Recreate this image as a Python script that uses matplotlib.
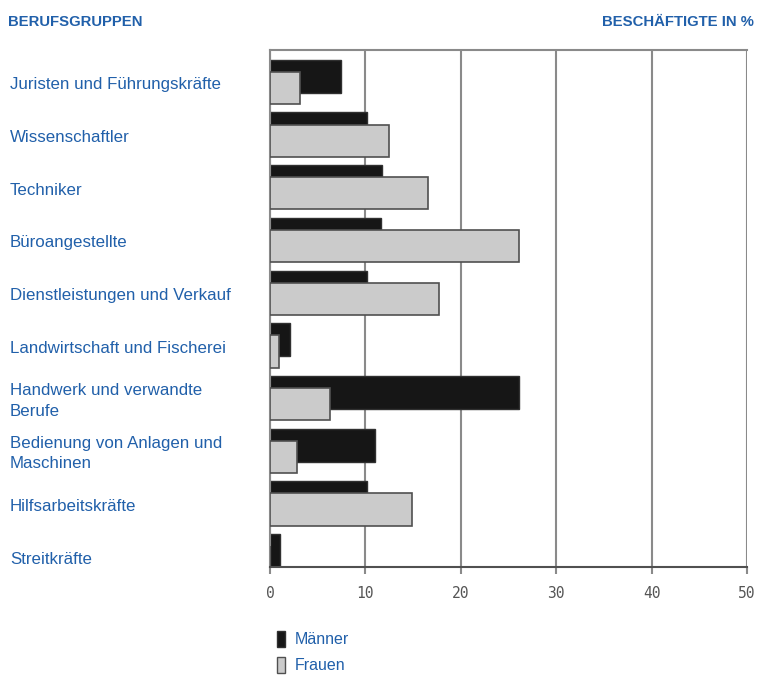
import matplotlib.pyplot as plt
from matplotlib.patches import Patch

gruppen = ['Juristen und Führungskräfte', 'Wissenschaftler', 'Techniker',
           'Büroangestellte', 'Dienstleistungen und Verkauf',
           'Landwirtschaft und Fischerei', 'Handwerk und verwandte\nBerufe',
           'Bedienung von Anlagen und\nMaschinen', 'Hilfsarbeitskräfte',
           'Streitkräfte']
maenner = [7.4, 10.2, 11.7, 11.6, 10.2, 2.1, 26.1, 11.0, 10.2, 1.1]
frauen = [3.1, 12.5, 16.6, 26.1, 17.7, 0.9, 6.3, 2.8, 14.9, 0.0]
xticks = [0, 10, 20, 30, 40, 50]

blau = '#2160aa'
grau_linie = '#8a8a8a'

plt.rcParams['font.family'] = ['Liberation Sans', 'DejaVu Sans']

fig = plt.figure(figsize=(7.57, 6.75), dpi=100)
ax = fig.add_axes([270 / 757, 108 / 675, 477 / 757, 517 / 675])

pos = list(range(len(gruppen)))
ax.barh(pos, maenner, height=0.63, color='#161616', edgecolor='#303030',
        linewidth=1, zorder=2)
ax.barh([p + 0.22 for p in pos], frauen, height=0.61, color='#cbcbcb',
        edgecolor='#505050', linewidth=1.2, zorder=3)

ax.set_xlim(0, 50)
ax.set_ylim(9.31, -0.5)
ax.set_xticks(xticks)
ax.set_xticklabels([str(t) for t in xticks], color='#555555', fontsize=10.5,
                   family='DejaVu Sans Mono')
ax.set_yticks([])
ax.tick_params(axis='x', length=5, color=grau_linie, width=1.5, pad=9)
ax.grid(axis='x', color=grau_linie, linewidth=1.5)
ax.set_axisbelow(True)
for s in ['left', 'top', 'right']:
    ax.spines[s].set_color(grau_linie)
    ax.spines[s].set_linewidth(1.5)
ax.spines['right'].set_visible(False)
ax.spines['bottom'].set_color('#505050')
ax.spines['bottom'].set_linewidth(1.5)

# Beschriftung links
for i, name in enumerate(gruppen):
    ax.text(-260 / 9.54, i + 0.16, name, color=blau, fontsize=12.2,
            va='center', ha='left', linespacing=1.45)

fig.text(8 / 757, 1 - 22 / 675, 'BERUFSGRUPPEN', color=blau, fontsize=10.7,
         fontweight='bold', va='center', ha='left')
fig.text(754 / 757, 1 - 22 / 675, 'BESCHÄFTIGTE IN %', color=blau,
         fontsize=10.7, fontweight='bold', va='center', ha='right')

handles = [Patch(facecolor='#161616', edgecolor='#303030', label='Männer'),
           Patch(facecolor='#cbcbcb', edgecolor='#505050', label='Frauen')]
fig.legend(handles=handles, loc='upper left',
           bbox_to_anchor=(277 / 757, 1 - 631 / 675), frameon=False,
           handlelength=0.5, handleheight=1.15, handletextpad=0.6,
           labelspacing=0.6, fontsize=11.5, labelcolor=blau,
           borderpad=0, borderaxespad=0)

fig.savefig('out.png', dpi=100)
